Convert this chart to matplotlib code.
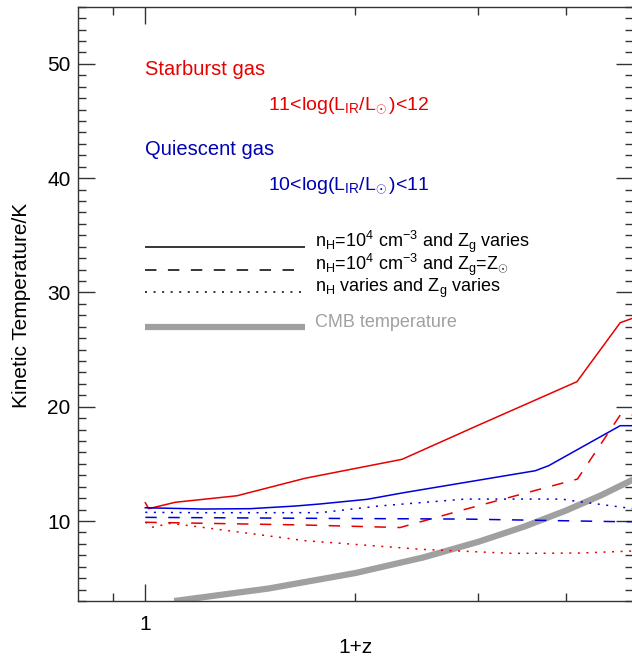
import numpy as np
import matplotlib
matplotlib.use("Agg")
import matplotlib.pyplot as plt
from matplotlib.ticker import MultipleLocator, NullFormatter

plt.rcParams['font.family'] = ['Liberation Sans', 'DejaVu Sans']
plt.rcParams['mathtext.fontset'] = 'custom'
plt.rcParams['mathtext.rm'] = 'Liberation Sans'
plt.rcParams['mathtext.it'] = 'Liberation Sans:italic'

# --- data (x = 1+z, y = kinetic temperature / K) ---
sb_solid_x = [1.0, 1.011, 1.104, 1.353, 1.694, 2.333, 3.004, 4.153, 4.79, 5.0]
sb_solid_y = [11.6, 11.08, 11.64, 12.21, 13.74, 15.4, 18.4, 22.19, 27.35, 27.76]

sb_dash_x = [1.0, 1.694, 2.317, 2.871, 4.16, 4.79, 5.0]
sb_dash_y = [9.89, 9.65, 9.43, 11.02, 13.67, 19.27, 19.27]

sb_dot_x = [1.0, 1.022, 1.086, 1.206, 1.36, 1.694, 2.492, 3.353, 4.2, 5.0]
sb_dot_y = [9.91, 9.45, 9.8, 9.45, 9.04, 8.28, 7.52, 7.17, 7.2, 7.38]

qs_solid_x = [1.0, 1.212, 1.413, 1.639, 1.779, 2.079, 2.346, 3.62, 3.783, 4.79, 5.0]
qs_solid_y = [11.16, 11.05, 11.08, 11.31, 11.49, 11.9, 12.48, 14.4, 14.84, 18.34, 18.34]

qs_dash_x = [1.0, 1.694, 2.871, 4.79, 5.0]
qs_dash_y = [10.32, 10.24, 10.17, 9.94, 9.94]

qs_dot_x = [1.0, 1.205, 1.78, 2.158, 2.871, 3.95, 4.12, 5.0]
qs_dot_y = [10.76, 10.73, 10.73, 11.31, 11.92, 11.92, 11.75, 11.08]

cmb_x = [1.1, 1.5, 2.0, 2.5, 3.0, 3.5, 4.0, 4.5, 5.0]
cmb_y = [3.0, 4.09, 5.45, 6.81, 8.18, 9.54, 10.9, 12.26, 13.63]

legend_labels = [
    r'n$_\mathrm{H}$=10$^\mathrm{4}$ cm$^\mathrm{-3}$ and Z$_\mathrm{g}$ varies',
    r'n$_\mathrm{H}$=10$^\mathrm{4}$ cm$^\mathrm{-3}$ and Z$_\mathrm{g}$=Z$_{\!\odot}$',
    r'n$_\mathrm{H}$ varies and Z$_\mathrm{g}$ varies',
    'CMB temperature',
]

RED = '#e60000'
BLUE = '#0000dc'
BLUE_TXT = '#0000b4'
GREY = '#a0a0a0'
DASH = (0, (7.5, 7.5))
DOT = (0, (1.3, 4.3))
LW = 1.1

fig = plt.figure(figsize=(6.32, 6.56), dpi=100)
ax = fig.add_axes([0.1229, 0.0838, 0.8790, 0.906])

ax.plot(cmb_x, cmb_y, color=GREY, lw=4.5, solid_capstyle='butt', zorder=1)
ax.plot(sb_solid_x, sb_solid_y, color=RED, lw=LW)
ax.plot(sb_dash_x, sb_dash_y, color=RED, lw=LW, linestyle=DASH)
ax.plot(sb_dot_x, sb_dot_y, color=RED, lw=LW, linestyle=DOT)
ax.plot(qs_solid_x, qs_solid_y, color=BLUE, lw=LW)
ax.plot(qs_dash_x, qs_dash_y, color=BLUE, lw=LW, linestyle=DASH)
ax.plot(qs_dot_x, qs_dot_y, color=BLUE, lw=LW, linestyle=DOT)

# hand-drawn key, baseline-aligned with the text
key_styles = [('-', 'black', LW), (DASH, 'black', LW), (DOT, 'black', LW), ('-', GREY, 4.5)]
key_y = [34, 32, 30, 27]
for (ls, c, lw), yk, lab in zip(key_styles, key_y, legend_labels):
    ax.plot([1.0, 1.694], [yk, yk], linestyle=ls, color=c, lw=lw, solid_capstyle='butt')
    ax.text(1.752, yk, lab, fontsize=13, va='baseline', ha='left',
            color=GREY if c == GREY else 'black')

ax.text(1.0, 49, 'Starburst gas', color=RED, fontsize=14.5, va='baseline')
ax.text(1.5, 46, r'11<log(L$_\mathrm{IR}$/L$_{\!\odot}$)<12', color=RED, fontsize=14, va='baseline')
ax.text(1.0, 42, 'Quiescent gas', color=BLUE_TXT, fontsize=14.5, va='baseline')
ax.text(1.5, 39, r'10<log(L$_\mathrm{IR}$/L$_{\!\odot}$)<11', color=BLUE_TXT, fontsize=14, va='baseline')

ax.set_xscale('log')
ax.set_xlim(0.8, 5.0)
ax.set_ylim(3, 55)
ax.set_xticks([1])
ax.set_xticklabels(['1'])
ax.set_xticks([0.9, 2, 3, 4], minor=True)
ax.xaxis.set_minor_formatter(NullFormatter())
ax.yaxis.set_major_locator(MultipleLocator(10))
ax.yaxis.set_minor_locator(MultipleLocator(1))

ax.tick_params(which='both', direction='in', top=True, right=True, color='#333333', width=1.0)
ax.tick_params(which='major', length=12, labelsize=15)
ax.tick_params(which='minor', length=6)
ax.tick_params(axis='x', which='major', pad=10)
ax.tick_params(axis='y', which='major', pad=5)
for sp in ax.spines.values():
    sp.set_color('#333333')
    sp.set_linewidth(1.0)

fig.text(355.5 / 632, 1 - 653 / 656, '1+z', fontsize=15, ha='center', va='baseline')
fig.text(12 / 632, 1 - 305 / 656, 'Kinetic Temperature/K', fontsize=15, rotation=90,
         ha='left', va='center')

fig.savefig('out.png', dpi=100)
